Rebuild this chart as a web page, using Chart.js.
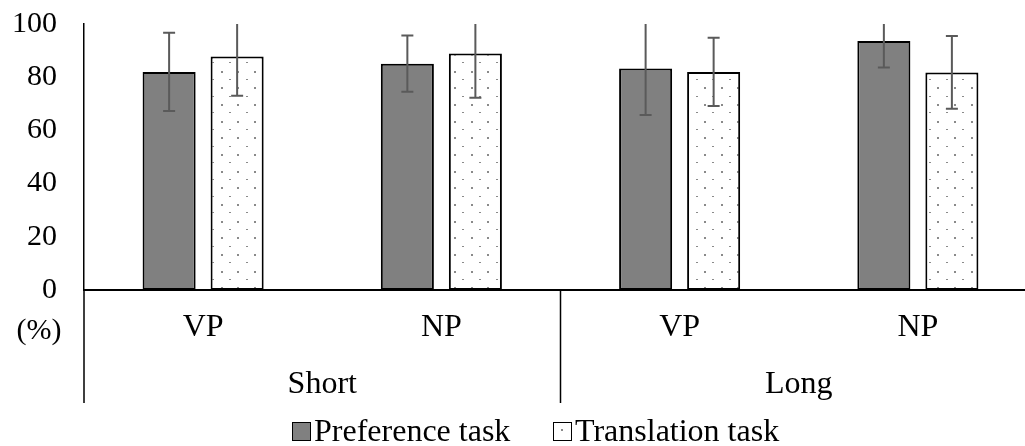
<!DOCTYPE html>
<html>
<head>
<meta charset="utf-8">
<script src="https://cdn.jsdelivr.net/npm/chart.js@4.4.1/dist/chart.umd.min.js"></script>
<style>
  html, body { margin: 0; padding: 0; background: #fff; overflow: hidden; }
  #wrap { width: 1025px; height: 446px; overflow: hidden; }
</style>
</head>
<body>
<div id="wrap"><canvas id="chart" width="1040" height="446"></canvas></div>
<script>
  // data
  const categories = ['VP', 'NP', 'VP', 'NP'];
  const groups = ['Short', 'Long'];
  const seriesNames = ['Preference task', 'Translation task'];
  const preference = [82.0, 85.1, 83.3, 93.6];
  const translation = [87.8, 88.9, 82.0, 81.8];
  const preferenceErr = [14.7, 10.6, 17.5, 10.0];
  const translationErr = [14.8, 16.6, 12.8, 13.7];
  const yTicks = [0, 20, 40, 60, 80, 100];

  const FONT = '"Liberation Serif", "Times New Roman", serif';

  // dotted fill for the translation bars
  function makeDots() {
    const c = document.createElement('canvas');
    c.width = 50; c.height = 50;
    const g = c.getContext('2d');
    g.fillStyle = '#fff';
    g.fillRect(0, 0, 50, 50);
    g.fillStyle = '#8a8a8a';
    const s = 50 / 3;
    for (let i = 0; i < 3; i++) {
      for (let j = 0; j < 3; j++) {
        g.fillRect(Math.round(i * s + 4), Math.round(j * s + 4), 2, 2);
        g.fillRect(Math.round(i * s + 4 + s / 2), Math.round(j * s + 4 + s / 2), 2, 1);
      }
    }
    return g.createPattern(c, 'repeat');
  }
  const dots = makeDots();

  const errors = [preferenceErr, translationErr];

  const extras = {
    id: 'extras',
    afterDatasetsDraw(chart) {
      const ctx = chart.ctx;
      const y = chart.scales.y;
      const area = chart.chartArea;
      // error bars
      ctx.save();
      ctx.strokeStyle = '#5a5a5a';
      ctx.lineWidth = 2;
      chart.data.datasets.forEach((ds, di) => {
        const meta = chart.getDatasetMeta(di);
        meta.data.forEach((bar, i) => {
          const v = ds.data[i], e = errors[di][i];
          const hi = v + e, lo = v - e;
          const yHi = Math.max(y.getPixelForValue(hi), area.top);
          const yLo = y.getPixelForValue(lo);
          ctx.beginPath();
          ctx.moveTo(bar.x, yHi);
          ctx.lineTo(bar.x, yLo);
          ctx.moveTo(bar.x - 6, yLo);
          ctx.lineTo(bar.x + 6, yLo);
          if (hi <= y.max) {
            ctx.moveTo(bar.x - 6, yHi);
            ctx.lineTo(bar.x + 6, yHi);
          }
          ctx.stroke();
        });
      });
      ctx.restore();
    },
    afterDraw(chart) {
      const ctx = chart.ctx;
      const x = chart.scales.x;
      const area = chart.chartArea;
      const bottom = 403;
      ctx.save();
      ctx.strokeStyle = '#000';
      ctx.lineWidth = 1.5;
      ctx.beginPath();
      ctx.moveTo(area.left, area.bottom);
      ctx.lineTo(area.left, bottom);
      const mid = (x.getPixelForValue(1) + x.getPixelForValue(2)) / 2;
      ctx.moveTo(mid, area.bottom);
      ctx.lineTo(mid, bottom);
      ctx.stroke();

      ctx.fillStyle = '#000';
      ctx.font = '32px ' + FONT;
      ctx.textAlign = 'center';
      ctx.textBaseline = 'middle';
      groups.forEach((g, gi) => {
        const cx = (x.getPixelForValue(gi * 2) + x.getPixelForValue(gi * 2 + 1)) / 2;
        ctx.fillText(g, cx, 385);
      });
      ctx.font = '30px ' + FONT;
      ctx.fillText('(%)', 39, 331);

      // legend
      ctx.font = '32px ' + FONT;
      ctx.textAlign = 'left';
      ctx.textBaseline = 'alphabetic';
      const items = [
        { x: 292, fill: '#808080' },
        { x: 553, fill: '#fff' }
      ];
      chart.data.datasets.forEach((ds, di) => {
        const it = items[di];
        ctx.fillStyle = it.fill;
        ctx.fillRect(it.x, 422, 19, 19);
        ctx.lineWidth = 1;
        ctx.strokeStyle = '#000';
        ctx.strokeRect(it.x + 0.5, 422.5, 18, 18);
        if (di === 1) {
          ctx.fillStyle = '#8a8a8a';
          ctx.fillRect(it.x + 8, 429, 2, 2);
        }
        ctx.fillStyle = '#000';
        ctx.fillText(ds.label, it.x + 22, 441);
      });
      ctx.restore();
    }
  };

  new Chart(document.getElementById('chart'), {
    type: 'bar',
    data: {
      labels: categories,
      datasets: [
        {
          label: seriesNames[0],
          data: preference,
          backgroundColor: '#808080',
          borderColor: '#000',
          borderWidth: 2,
          borderSkipped: false
        },
        {
          label: seriesNames[1],
          data: translation,
          backgroundColor: dots,
          borderColor: '#000',
          borderWidth: 2,
          borderSkipped: false
        }
      ]
    },
    options: {
      responsive: false,
      animation: false,
      events: [],
      categoryPercentage: 0.571,
      barPercentage: 0.78,
      layout: { padding: { top: 24, right: 3, bottom: 0, left: 0 } },
      plugins: {
        legend: { display: false },
        tooltip: { enabled: false }
      },
      scales: {
        x: {
          grid: { display: false, drawTicks: false },
          border: { display: true, color: '#000', width: 2 },
          ticks: { color: '#000', font: { family: FONT, size: 32 }, padding: 18, maxRotation: 0 },
          afterFit(scale) { scale.height = 156; }
        },
        y: {
          min: 0,
          max: 100,
          grid: { display: false, drawTicks: false },
          border: { display: true, color: '#000', width: 1.5 },
          afterBuildTicks(scale) { scale.ticks = yTicks.map(v => ({ value: v })); },
          ticks: { color: '#000', font: { family: FONT, size: 30 }, padding: 27 },
          afterFit(scale) {
            scale.width = 84;
            scale.paddingTop = 0;
            scale.paddingBottom = 0;
          }
        }
      }
    },
    plugins: [extras]
  });
</script>
</body>
</html>
